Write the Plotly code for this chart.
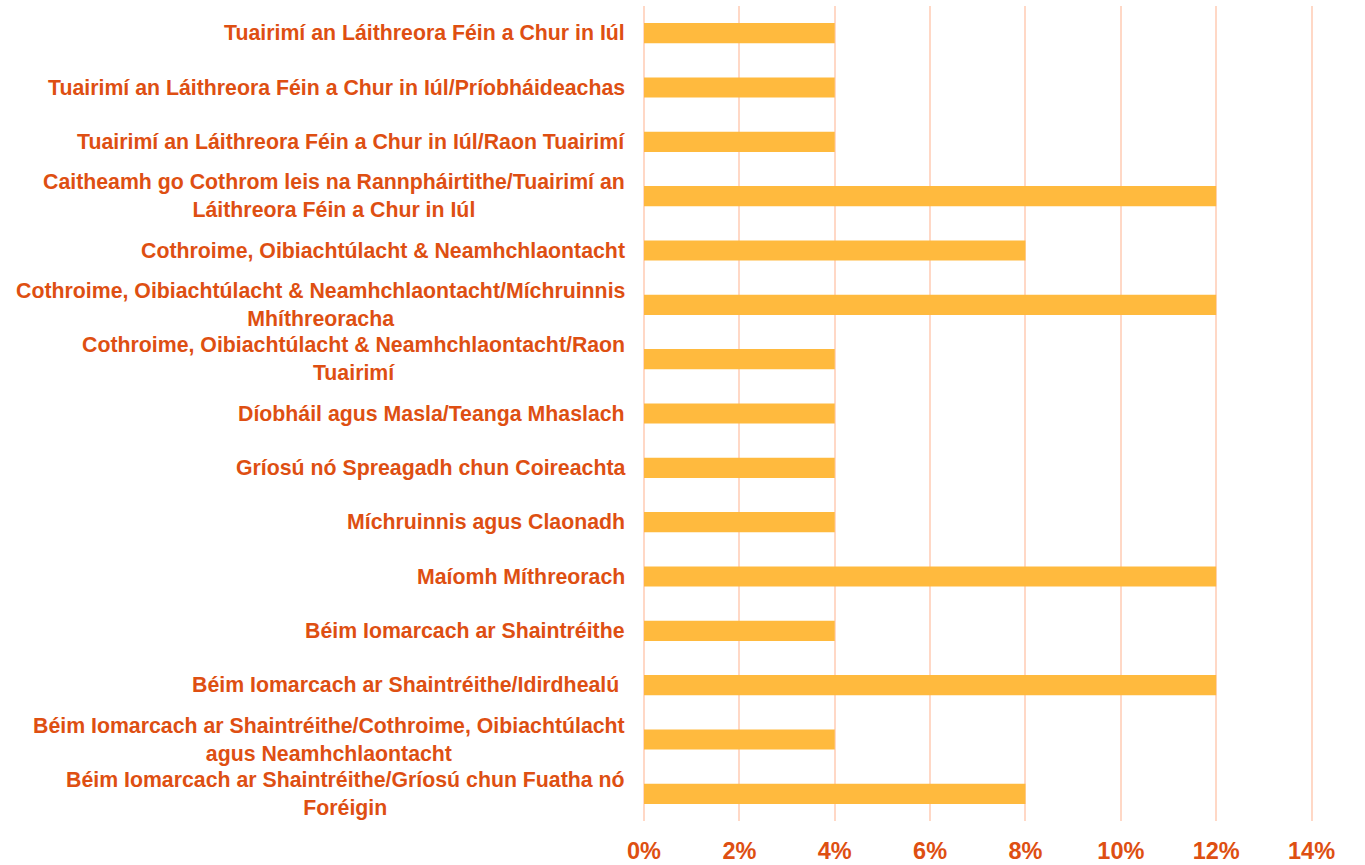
import plotly.graph_objects as go

# Categories in display order (top to bottom)
categories = [
    "Tuairimí an Láithreora Féin a Chur in Iúl",
    "Tuairimí an Láithreora Féin a Chur in Iúl/Príobháideachas",
    "Tuairimí an Láithreora Féin a Chur in Iúl/Raon Tuairimí",
    "Caitheamh go Cothrom leis na Rannpháirtithe/Tuairimí an<br>Láithreora Féin a Chur in Iúl",
    "Cothroime, Oibiachtúlacht & Neamhchlaontacht",
    "Cothroime, Oibiachtúlacht & Neamhchlaontacht/Míchruinnis<br>Mhíthreoracha",
    "Cothroime, Oibiachtúlacht & Neamhchlaontacht/Raon<br>Tuairimí",
    "Díobháil agus Masla/Teanga Mhaslach",
    "Gríosú nó Spreagadh chun Coireachta",
    "Míchruinnis agus Claonadh",
    "Maíomh Míthreorach",
    "Béim Iomarcach ar Shaintréithe",
    "Béim Iomarcach ar Shaintréithe/Idirdhealú\u00a0",
    "Béim Iomarcach ar Shaintréithe/Cothroime, Oibiachtúlacht<br>agus Neamhchlaontacht",
    "Béim Iomarcach ar Shaintréithe/Gríosú chun Fuatha nó<br>Foréigin",
]

# Share of items per category
shares = [0.04, 0.04, 0.04, 0.12, 0.08, 0.12, 0.04, 0.04, 0.04, 0.04, 0.12, 0.04, 0.12, 0.04, 0.08]

# X axis ticks
tick_values = [0.0, 0.02, 0.04, 0.06, 0.08, 0.10, 0.12, 0.14]
tick_labels = ["0%", "2%", "4%", "6%", "8%", "10%", "12%", "14%"]

TEXT_COLOR = "#DE4F12"
BAR_COLOR = "#FFBA3E"
GRID_COLOR = "#FFD8C6"
FONT = "Liberation Sans, Arial, sans-serif"

ids = list(range(len(categories)))

fig = go.Figure(
    go.Bar(
        x=shares,
        y=ids,
        orientation="h",
        width=0.37,
        marker=dict(color=BAR_COLOR, line=dict(width=0)),
        hoverinfo="skip",
    )
)

# Category labels, right-aligned to the plot edge, multi-line centered
for i, label in zip(ids, categories):
    fig.add_annotation(
        x=0,
        xref="paper",
        y=i,
        yref="y",
        text=f"<b>{label}</b>",
        showarrow=False,
        xanchor="right",
        yanchor="middle",
        align="center",
        xshift=-17,
        font=dict(family=FONT, size=21.3, color=TEXT_COLOR),
    )

fig.update_xaxes(
    range=[0, 0.1403],
    tickvals=tick_values,
    ticktext=[f"<b>{t}</b>" for t in tick_labels],
    tickfont=dict(family=FONT, size=23.5, color=TEXT_COLOR),
    showgrid=True,
    gridcolor=GRID_COLOR,
    gridwidth=2,
    zeroline=True,
    zerolinecolor=GRID_COLOR,
    zerolinewidth=2,
    showline=False,
    ticks="",
    ticklabelstandoff=13,
    automargin=False,
    fixedrange=True,
)
fig.update_yaxes(
    range=[len(categories) - 0.5, -0.5],
    showticklabels=False,
    showgrid=False,
    zeroline=False,
    showline=False,
    ticks="",
    automargin=False,
    fixedrange=True,
)

fig.update_layout(
    width=1365,
    height=865,
    margin=dict(l=644, r=52, t=6, b=44),
    paper_bgcolor="white",
    plot_bgcolor="white",
    showlegend=False,
    bargap=0.63,
)

fig.write_html("out.html", config={"displayModeBar": False})
